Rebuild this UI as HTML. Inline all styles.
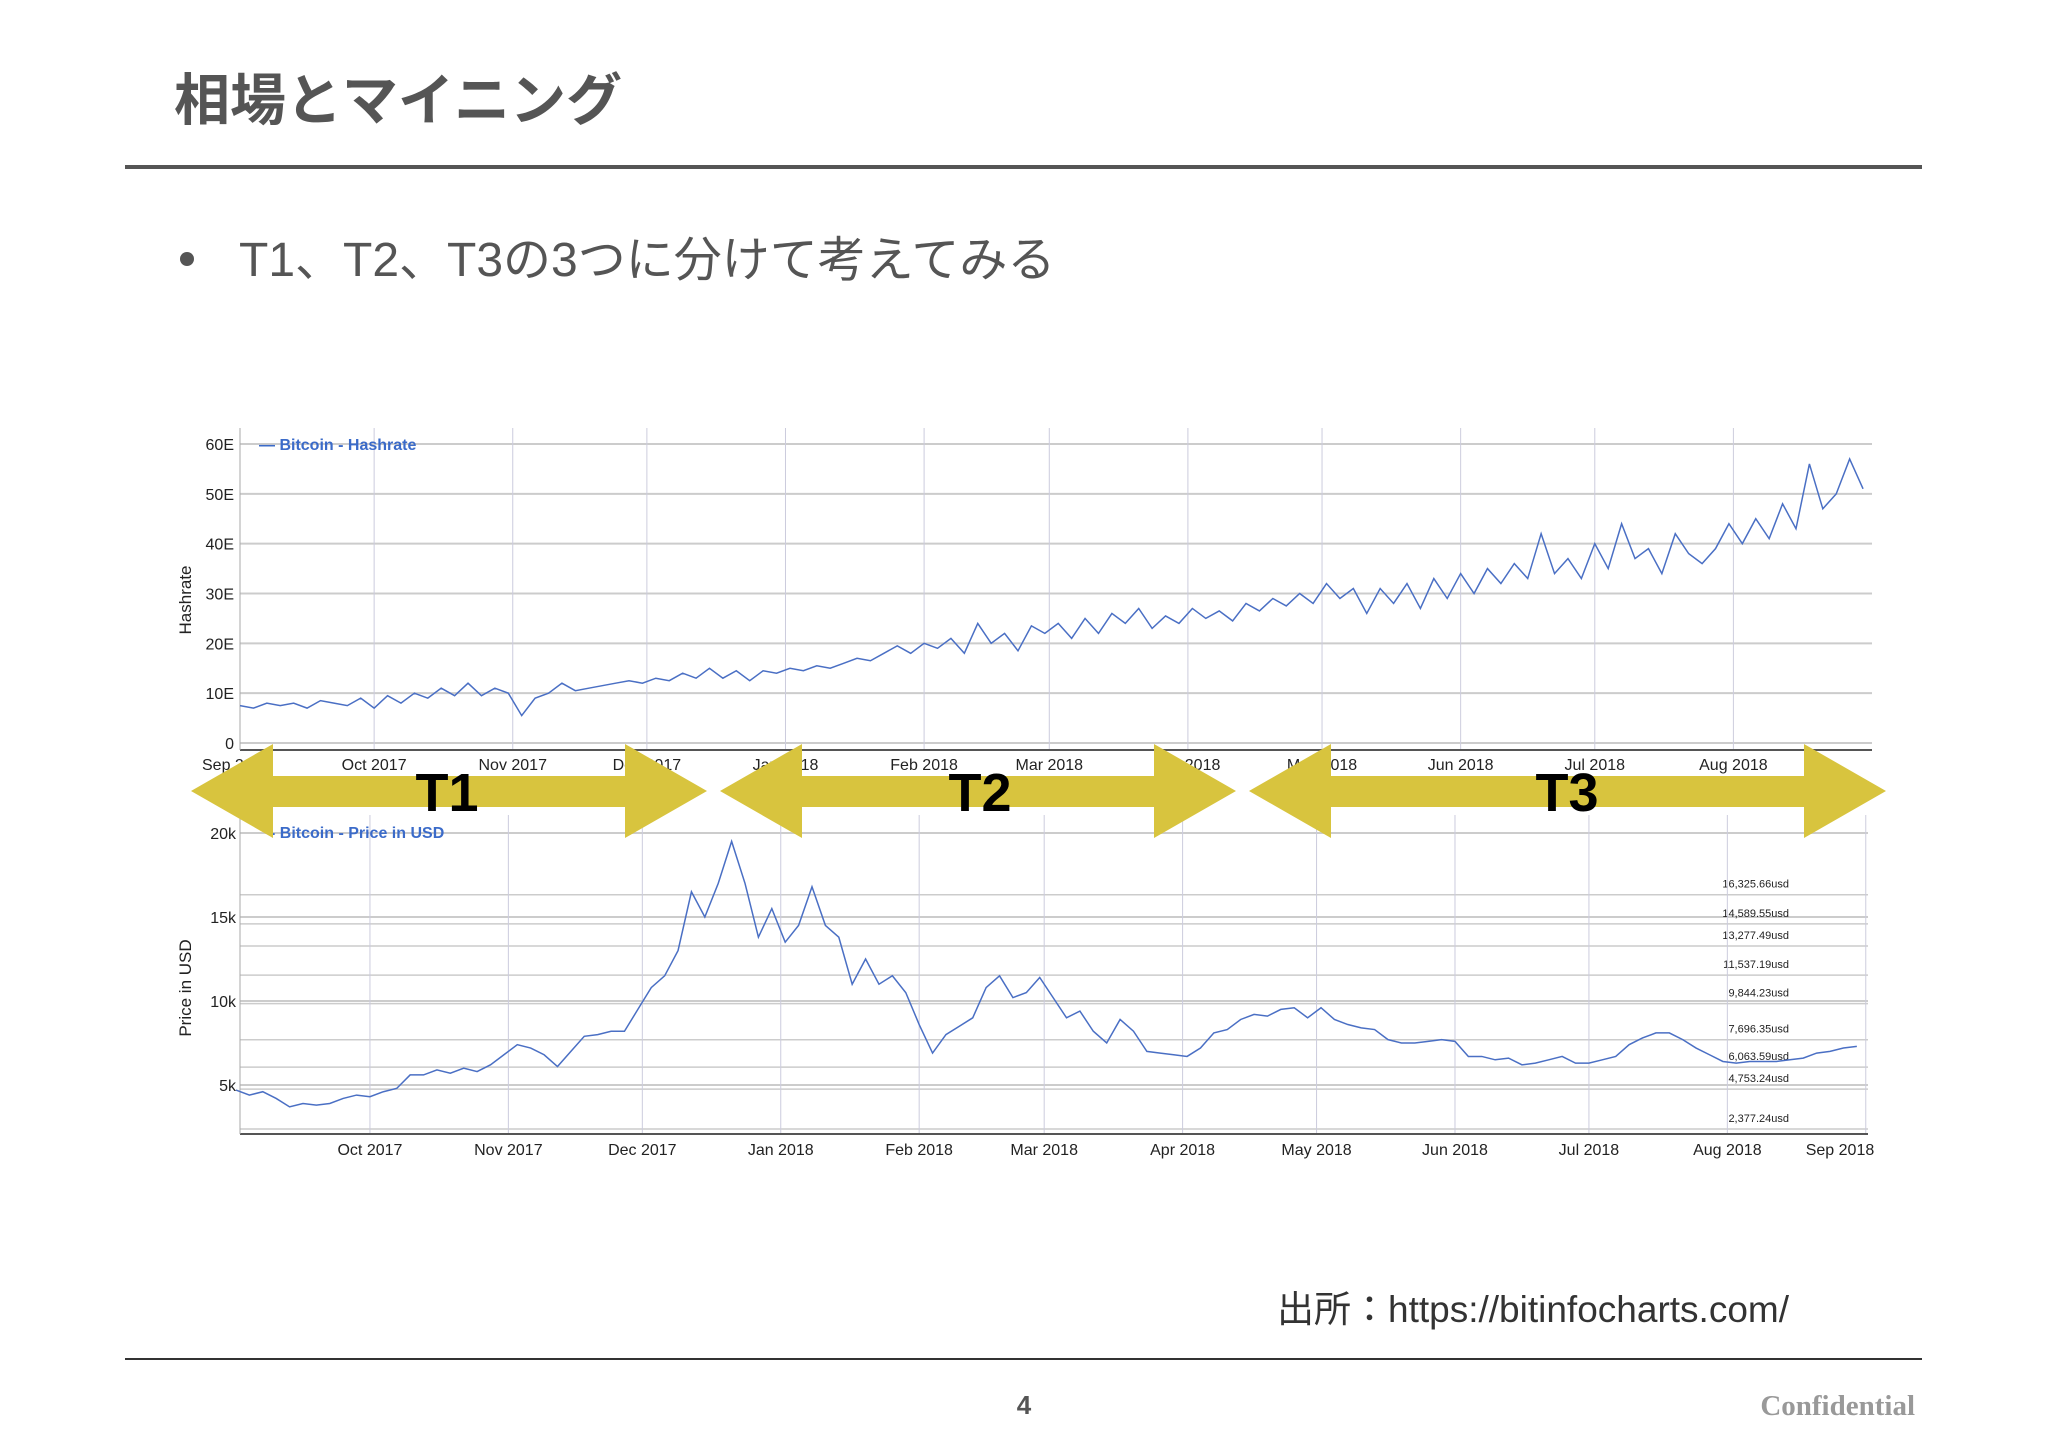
<!DOCTYPE html>
<html><head><meta charset="utf-8"><style>
body{margin:0;width:2048px;height:1448px;background:#fff;overflow:hidden;font-family:"Liberation Sans","Noto Sans CJK JP",sans-serif;}
svg{position:absolute;left:0;top:0}
</style></head><body>
<svg width="2048" height="1448">
<text x="174" y="120" font-size="56" font-weight="bold" fill="#555" font-family="Noto Sans CJK JP, sans-serif">相場とマイニング</text>
<rect x="125" y="165" width="1797" height="4" fill="#555"/>
<circle cx="187" cy="259" r="7" fill="#555"/>
<text x="239" y="276" font-size="48" fill="#555" font-family="Liberation Sans, Noto Sans CJK JP, sans-serif">T1、T2、T3の3つに分けて考えてみる</text>
<g id="topchart"></g>
<g id="botchart"></g>
<g id="arrows"></g>
<text x="1277" y="1322" font-size="37" fill="#333" font-family="Liberation Sans, Noto Sans CJK JP, sans-serif">出所：https://bitinfocharts.com/</text>
<rect x="125" y="1358" width="1797" height="2" fill="#333"/>
<text x="1024" y="1414" font-size="26" font-weight="bold" fill="#555" text-anchor="middle">4</text>
<text x="1915" y="1415" font-size="29" font-weight="bold" fill="#999" text-anchor="end" font-family="Liberation Serif, serif">Confidential</text>
</svg>
<script>
const hashDays=[];for(let i=0;i<122;i++)hashDays.push(i*3);
const hashVals=[7.5,7,8,7.5,8,7,8.5,8,7.5,9,7,9.5,8,10,9,11,9.5,12,9.5,11,10,5.5,9,10,12,10.5,11,11.5,12,12.5,12,
13,12.5,14,13,15,13,14.5,12.5,14.5,14,
15,14.5,15.5,15,16,17,16.5,18,19.5,18,
20,19,21,18,24,20,22,18.5,23.5,22,
24,21,25,22,26,24,27,23,25.5,24,
27,25,26.5,24.5,28,26.5,29,27.5,30,28,
32,29,31,26,31,28,32,27,33,29,
34,30,35,32,36,33,42,34,37,33,
40,35,44,37,39,34,42,38,36,39,
44,40,45,41,48,43,56,47,50,57,51];
const priceVals=[4.7,4.4,4.6,4.2,3.7,3.9,3.8,3.9,4.2,4.4,
4.3,4.6,4.8,5.6,5.6,5.9,5.7,6.0,5.8,6.2,6.8,
7.4,7.2,6.8,6.1,7.0,7.9,8.0,8.2,8.2,9.5,
10.8,11.5,13,16.5,15,17,19.5,17,13.8,15.5,
13.5,14.5,16.8,14.5,13.8,11,12.5,11,11.5,10.5,
8.6,6.9,8.0,8.5,9,10.8,11.5,10.2,10.5,11.4,
10.2,9,9.4,8.2,7.5,8.9,8.2,7.0,6.9,6.8,
6.7,7.2,8.1,8.3,8.9,9.2,9.1,9.5,9.6,9.0,
9.6,8.9,8.6,8.4,8.3,7.7,7.5,7.5,7.6,7.7,
7.6,6.7,6.7,6.5,6.6,6.2,6.3,6.5,6.7,6.3,
6.3,6.5,6.7,7.4,7.8,8.1,8.1,7.7,7.2,6.8,
6.4,6.3,6.4,6.4,6.4,6.5,6.6,6.9,7.0,7.2,7.3];
const hashTicks=[0,10,20,30,40,50,60];
const hashMonths=["Sep 2017","Oct 2017","Nov 2017","Dec 2017","Jan 2018","Feb 2018","Mar 2018","Apr 2018","May 2018","Jun 2018","Jul 2018","Aug 2018"];
const monthDays=[0,30,61,91,122,153,181,212,242,273,303,334,365];
const priceTicks=[5,10,15,20];
const priceMonths=["Oct 2017","Nov 2017","Dec 2017","Jan 2018","Feb 2018","Mar 2018","Apr 2018","May 2018","Jun 2018","Jul 2018","Aug 2018","Sep 2018"];
const levelVals=[16325.66,14589.55,13277.49,11537.19,9844.23,7696.35,6063.59,4753.24,2377.24];
const NS="http://www.w3.org/2000/svg";
function mk(p,t,a,txt){const e=document.createElementNS(NS,t);for(const k in a)e.setAttribute(k,a[k]);if(txt!=null)e.textContent=txt;p.appendChild(e);return e;}
// top chart
const topG=document.getElementById('topchart');
const hx=d=>240+d*(1872-240)/365, hy=v=>743-v*(743-444)/60;
hashTicks.forEach(v=>{const l=mk(topG,'line',{x1:240,x2:1872,y1:hy(v),y2:hy(v),stroke:'#ccc','stroke-width':2});


const t=mk(topG,'text',{x:234,y:hy(v)+6,'font-size':16,'text-anchor':'end',fill:'#222'},v===0?'0':v+'E');

});
hashMonths.forEach((m,i)=>{const x=hx(monthDays[i]);if(i>0){const l=mk(topG,'line',{x1:x,x2:x,y1:428,y2:750,stroke:'#ccd','stroke-width':1});

}
const t=mk(topG,'text',{x:i===0?202:x,y:770,'font-size':16,'text-anchor':i===0?'start':'middle',fill:'#222'},m);

});
mk(topG,'line',{x1:240,x2:1872,y1:750,y2:750,stroke:'#555','stroke-width':2});
mk(topG,'line',{x1:240,x2:240,y1:428,y2:750,stroke:'#aaa','stroke-width':1});
const hl=mk(topG,'polyline',{points:hashVals.map((v,i)=>hx(hashDays[i])+','+hy(v)).join(' '),fill:'none',stroke:'#4a6fc4','stroke-width':1.5});


const ht=mk(topG,'text',{transform:'translate(191,600) rotate(-90)','font-size':17,'text-anchor':'middle',fill:'#222'},'Hashrate');


const hleg=mk(topG,'text',{x:259,y:450,'font-size':16,'font-weight':'bold',fill:'#3b6bc9'},'— Bitcoin - Hashrate');


// bottom chart
const botG=document.getElementById('botchart');
const px=d=>236+d*(1868-236)/365.5, py=v=>1169-v*16.8;
priceTicks.forEach(v=>{const l=mk(botG,'line',{x1:240,x2:1868,y1:py(v),y2:py(v),stroke:'#ccc','stroke-width':2});


const t=mk(botG,'text',{x:236,y:py(v)+6,'font-size':16,'text-anchor':'end',fill:'#222'},v+'k');

});
levelVals.forEach(v=>{const y=py(v/1000);const l=mk(botG,'line',{x1:240,x2:1868,y1:y,y2:y,stroke:'#ccc','stroke-width':1.5});


const t=mk(botG,'text',{x:1789,y:y-7,'font-size':11,'text-anchor':'end',fill:'#222'},v.toLocaleString('en-US',{minimumFractionDigits:2})+'usd');

});
priceMonths.forEach((m,i)=>{const x=px(monthDays[i+1]);const l=mk(botG,'line',{x1:x,x2:x,y1:815,y2:1134,stroke:'#ccd','stroke-width':1});


const t=mk(botG,'text',{x:Math.min(x,1840),y:1155,'font-size':16,'text-anchor':'middle',fill:'#222'},m);

});
mk(botG,'line',{x1:240,x2:1868,y1:1134,y2:1134,stroke:'#555','stroke-width':2});
mk(botG,'line',{x1:240,x2:240,y1:815,y2:1134,stroke:'#aaa','stroke-width':1});
const pl=mk(botG,'polyline',{points:priceVals.map((v,i)=>px(hashDays[i])+','+py(v)).join(' '),fill:'none',stroke:'#4a6fc4','stroke-width':1.5});


const pt=mk(botG,'text',{transform:'translate(191,988) rotate(-90)','font-size':17,'text-anchor':'middle',fill:'#222'},'Price in USD');


const pleg=mk(botG,'text',{x:270,y:838,'font-size':16,'font-weight':'bold',fill:'#3b6bc9'},'- Bitcoin - Price in USD');


// arrows
const ar=document.getElementById('arrows');
const spans=[[191,707,'T1',447],[720,1236,'T2',980],[1249,1886,'T3',1567]];
spans.forEach(s=>{const [a,b,lab,tx]=s,h=82;
const p=mk(ar,'polygon',{points:`${a},791 ${a+h},744 ${a+h},776 ${b-h},776 ${b-h},744 ${b},791 ${b-h},838 ${b-h},807 ${a+h},807 ${a+h},838`,fill:'#d8c43e'});


const t=mk(ar,'text',{x:tx,y:811,'font-size':54,'font-weight':'bold','text-anchor':'middle',fill:'#000'},lab);

});
</script>
</body></html>
